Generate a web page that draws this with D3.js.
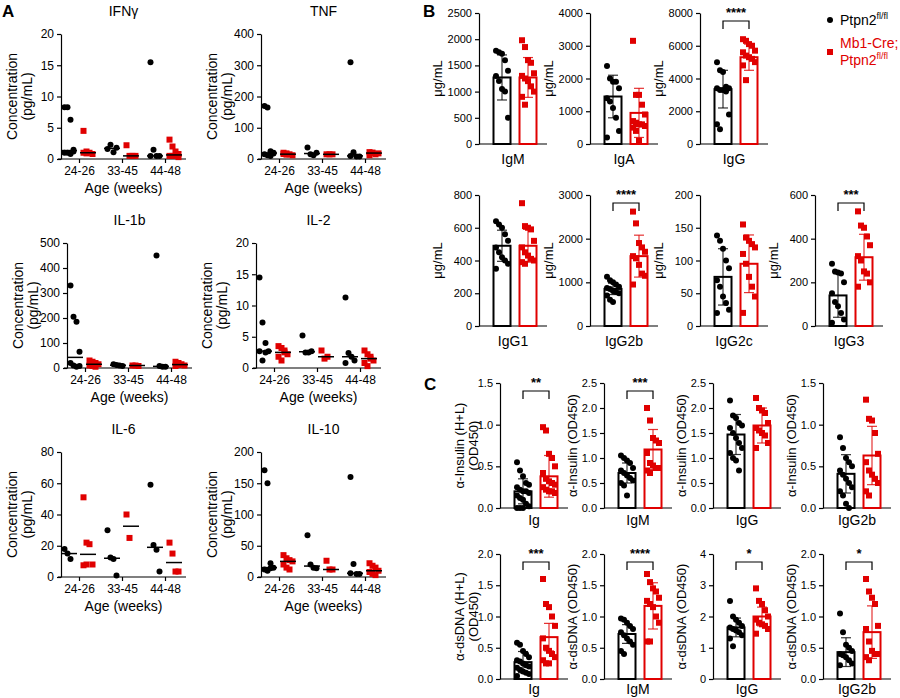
<!DOCTYPE html>
<html lang="en">
<head>
<meta charset="UTF-8">
<script src="https://d3js.org/d3.v7.min.js"></script>
<style>
  body { margin: 0; background: #fff; }
  svg { font-family: "Liberation Sans", Arial, sans-serif; }
  .axis path, .axis line { stroke: #000; stroke-width: 1.2; }
  .axis text { font-size: 11px; fill: #000; }
</style>
</head>
<body>
<svg id="fig" width="900" height="698"></svg>
<script>
const RED = "#e00000";
const ages = ["24-26", "33-45", "44-48"];

// Panel A: cytokines, [black, red] per age group
const cytoNames = ["IFNγ", "TNF", "IL-1b", "IL-2", "IL-6", "IL-10"];
const cytoMax = [20, 400, 500, 20, 80, 200];
const cytoTicks = [[0,5,10,15,20],[0,100,200,300,400],[0,100,200,300,400,500],[0,5,10,15,20],[0,20,40,60,80],[0,50,100,150,200]];
const ifng = [
  [[8.3,8.3,6.3,1.5,1,1,0.8,1.2],[4.5,1.2,1,0.8,1,0.9]],
  [[1.6,2.3,1.1,1.8],[2.2,0.5,0.5,0.5]],
  [[15.5,1.5,0.5,0.5,0.5],[3.1,2,1.2,0.8,0.5,0.5,0.5,0.3]]];
const tnf = [
  [[170,165,25,20,15,12,10,18],[20,18,15,12,16,14]],
  [[37,15,12,20],[15,15,15]],
  [[310,22,8,8,10],[22,20,15,18,12,20]]];
const il1b = [
  [[330,205,185,65,20,10,5,8],[30,25,20,15,10,8,5]],
  [[15,12,10,8],[10,10,8]],
  [[450,8,5,5],[25,20,15,10,8,12]]];
const il2 = [
  [[14.5,7.3,4,2.7,2.7,1.2,2.5],[3.5,3.2,2.5,2.2,1.8,1.2,2.8]],
  [[5.2,2.5,2.5,2.7],[2.8,1.5,1.8]],
  [[11.3,2.4,1.8,1.2,0.8],[2.8,2.2,1.5,1.2,0.8,0.3,1.8]]];
const il6 = [
  [[18,15,11.5],[51,22,21,8,7.5,8]],
  [[30,12.5,11.5,1],[40,25]],
  [[59,20.5,17.5,3.5],[22,15,3.5,3.5]]];
const il10 = [
  [[171,150,22,15,12,10,14],[35,30,27,25,20,15,12]],
  [[67,20,15,14],[26,12,12]],
  [[160,21,5,5,6],[22,18,15,10,8,5,3]]];
const cytoData = [ifng, tnf, il1b, il2, il6, il10];

// Panel B: serum Ig, [black, red]
const bNames = ["IgM","IgA","IgG","IgG1","IgG2b","IgG2c","IgG3"];
const bMax = [2500,4000,8000,800,3000,200,600];
const bStep = [500,1000,2000,200,1000,50,200];
const bMean = [[1270,1270],[1450,950],[3350,5300],[490,490],[850,1600],[75,95],[140,315]];
const bSd = [[430,380],[650,750],[1150,800],[95,100],[130,480],[43,44],[100,105]];
const bSig = ["","","****","","****","","***"];
const bPts = [
  [[1780,1750,1720,1600,1400,1300,1200,1050,1000,500],[1980,1850,1600,1550,1350,1300,1250,1200,1100,1000,900,750]],
  [[2380,2000,1900,1900,1700,1400,1300,1100,800,400,200],[3150,1500,1500,1200,900,700,650,600,600,550,500,400,100]],
  [[5000,4500,4400,3500,3400,3400,3300,3300,3200,1800,1200,900],[6400,6300,6100,6000,5700,5600,5400,5300,5200,5000,4800,3900]],
  [[640,620,600,560,520,480,450,420,400,380,350],[750,610,600,590,520,480,450,430,410,400,390,380]],
  [[1130,1050,1000,950,900,870,850,800,780,750,700,600,550],[2620,2350,1900,1800,1700,1600,1550,1400,1200,1150,950]],
  [[138,130,118,100,88,70,60,45,35,25,20],[155,135,130,125,120,110,95,75,60,45,20]],
  [[285,250,245,240,200,150,110,90,60,30,15],[525,460,450,410,370,320,300,250,240,200,180]]];

// Panel C: autoantibodies OD450
const cNames = ["Ig","IgM","IgG","IgG2b","Ig","IgM","IgG","IgG2b"];
const cMax = [1.5,2.5,2.5,1.5,2,2,4,2];
const cStep = [0.5,0.5,0.5,0.5,0.5,0.5,1,0.5];
const cMean = [[0.2,0.38],[0.7,1.17],[1.47,1.65],[0.41,0.63],[0.27,0.67],[0.72,1.17],[1.65,2.0],[0.43,0.75]];
const cSd = [[0.15,0.25],[0.2,0.4],[0.4,0.35],[0.23,0.35],[0.17,0.22],[0.15,0.37],[0.3,0.3],[0.23,0.42]];
const cSig = ["**","***","","","***","****","*","*"];
const cPts = [
  [[0.55,0.45,0.38,0.3,0.28,0.25,0.22,0.2,0.2,0.18,0.15,0.12,0.1,0.05,0.02,0,0,0],[0.97,0.93,0.65,0.6,0.5,0.42,0.35,0.32,0.3,0.28,0.25,0.22,0.2,0.2,0.18]],
  [[1.05,1.0,0.95,0.9,0.8,0.75,0.7,0.65,0.6,0.55,0.5,0.45,0.25],[2.0,1.75,1.4,1.35,1.3,1.1,0.9,0.85,0.8,0.8,0.75,0.7]],
  [[2.15,1.85,1.8,1.7,1.65,1.6,1.5,1.4,1.3,1.2,1.1,1.0,0.95,0.75],[2.2,2.0,1.95,1.9,1.7,1.6,1.55,1.5,1.45,1.3,1.2]],
  [[0.85,0.72,0.6,0.55,0.5,0.45,0.4,0.35,0.3,0.25,0.2,0.15,0.05,0],[1.3,1.07,1.05,0.9,0.65,0.55,0.45,0.4,0.35,0.3,0.2,0.15]],
  [[0.58,0.55,0.45,0.4,0.35,0.3,0.28,0.25,0.22,0.2,0.18,0.15,0.12,0.1,0.08,0.05],[1.6,1.2,1.15,1.0,0.85,0.65,0.5,0.45,0.4,0.35,0.3,0.25,0.25]],
  [[0.97,0.95,0.9,0.85,0.8,0.75,0.7,0.65,0.6,0.55,0.45,0.4],[1.68,1.55,1.45,1.4,1.3,1.25,1.2,1.15,1.0,0.9,0.6,0.6]],
  [[2.5,2.0,1.9,1.8,1.7,1.65,1.6,1.55,1.5,1.4,1.3,1.05],[2.9,2.5,2.4,2.2,2.0,1.9,1.8,1.75,1.7,1.6,1.45]],
  [[1.05,0.75,0.55,0.5,0.45,0.4,0.38,0.35,0.3,0.25,0.22],[1.6,1.4,1.3,1.2,0.85,0.8,0.6,0.45,0.4,0.4,0.35,0.3]]];

const svg = d3.select("#fig");
const jit = i => ((i % 5) - 2) * 3;

function mark(g, cx, cy, red) {
  if (red) g.append("rect").attr("x", cx - 3).attr("y", cy - 3).attr("width", 6).attr("height", 6).attr("fill", RED);
  else g.append("circle").attr("cx", cx).attr("cy", cy).attr("r", 3).attr("fill", "#000");
}

function yAxis(g, y, ticks, fmt) {
  g.append("g").attr("class", "axis")
    .call(d3.axisLeft(y).tickValues(ticks).tickSize(4).tickSizeOuter(0).tickFormat(fmt || d3.format("")));
}

// ---- Panel A ----
const aPos = [[61,34],[261,34],[67,243],[256,243],[61,452],[261,452]];
cytoData.forEach((data, k) => {
  const [ax, top] = aPos[k], h = 125, w = 125;
  const g = svg.append("g").attr("transform", `translate(${ax},${top})`);
  const y = d3.scaleLinear().domain([0, cytoMax[k]]).range([h, 0]);
  const x = d3.scalePoint().domain(ages).range([18, 104]);
  yAxis(g, y, cytoTicks[k]);
  g.append("g").attr("class", "axis").attr("transform", `translate(0,${h})`)
    .call(d3.axisBottom(x).tickSize(4).tickSizeOuter(0))
    .select(".domain").attr("d", `M-3,0H${w}`);
  g.selectAll(".axis text").style("font-size", "12px");
  data.forEach((grp, gi) => {
    grp.forEach((vals, s) => {
      const cx = x(ages[gi]) + (s ? 9 : -10);
      vals.forEach((v, i) => mark(g, cx + ((i % 4) - 1.5) * 3, y(v), s === 1));
      const m = d3.median(vals);
      g.append("line").attr("x1", cx - 8).attr("x2", cx + 8).attr("y1", y(m)).attr("y2", y(m))
        .attr("stroke", "#000").attr("stroke-width", 1.5);
    });
  });
  g.append("text").attr("x", w / 2).attr("y", -18).attr("text-anchor", "middle").attr("font-size", 14).text(cytoNames[k]);
  g.append("text").attr("x", w / 2).attr("y", h + 34).attr("text-anchor", "middle").attr("font-size", 14).text("Age (weeks)");
  [["Concentration", -44], ["(pg/mL)", -29]].forEach(([t, dx]) =>
    g.append("text").attr("transform", `translate(${dx},${h / 2}) rotate(-90)`).attr("text-anchor", "middle")
      .attr("font-size", 14).text(t));
});

// ---- bar panels (B, C) ----
function barPanel(ax, top, h, max, step, mean, sd, pts, name, sig, ylab, fmt, labY) {
  const g = svg.append("g").attr("transform", `translate(${ax},${top})`);
  const y = d3.scaleLinear().domain([0, max]).range([h, 0]);
  const x = d3.scalePoint().domain(["ctl", "ko"]).range([23, 49]);
  yAxis(g, y, d3.range(0, max + step / 2, step), fmt);
  g.append("line").attr("x1", 0).attr("x2", 68).attr("y1", h).attr("y2", h).attr("stroke", "#000").attr("stroke-width", 1.2);
  ["ctl", "ko"].forEach((key, s) => {
    const cx = x(key), col = s ? RED : "#000";
    g.append("rect").attr("x", cx - 8.5).attr("y", y(mean[s])).attr("width", 17).attr("height", h - y(mean[s]))
      .attr("fill", "none").attr("stroke", col).attr("stroke-width", 2);
    pts[s].forEach((v, i) => mark(g, cx + jit(i), y(v), s === 1));
    const eb = [mean[s] - sd[s], mean[s] + sd[s]].map(y);
    g.append("line").attr("x1", cx).attr("x2", cx).attr("y1", eb[0]).attr("y2", eb[1]).attr("stroke", col).attr("stroke-width", 1.2).attr("opacity", 0.8);
    eb.forEach(e => g.append("line").attr("x1", cx - 5).attr("x2", cx + 5).attr("y1", e).attr("y2", e).attr("stroke", col).attr("stroke-width", 1.2).attr("opacity", 0.8));
  });
  if (sig) {
    g.append("path").attr("d", `M${x("ctl")},${16}V${8}H${x("ko")}V${16}`).attr("fill", "none").attr("stroke", "#000").attr("stroke-width", 1.2);
    g.append("text").attr("x", (x("ctl") + x("ko")) / 2).attr("y", 4).attr("text-anchor", "middle").attr("font-size", 13).attr("font-weight", "bold").text(sig);
  }
  g.append("text").attr("x", 34).attr("y", h + labY).attr("text-anchor", "middle").attr("font-size", 14).text(name);
  ylab.forEach(([t, dx]) =>
    g.append("text").attr("transform", `translate(${dx},${h / 2}) rotate(-90)`).attr("text-anchor", "middle").attr("font-size", 13).text(t));
}

const bPos = [[479,13],[590,13],[700,13],[479,195],[590,195],[700,195],[815,195]];
bNames.forEach((n, k) => barPanel(bPos[k][0], bPos[k][1], 131, bMax[k], bStep[k], bMean[k], bSd[k], bPts[k], n, bSig[k],
  [["μg/mL", -37]], null, 20));

const cPos = [[500,383],[604,383],[713,383],[823,383],[500,554],[604,554],[713,554],[823,554]];
cNames.forEach((n, k) => {
  const lab = k < 4 ? "α-Insulin" : "α-dsDNA";
  const yl = n === "Ig" ? [[lab + " (H+L)", -36], ["(OD450)", -22]] : [[lab + " (OD450)", -27]];
  barPanel(cPos[k][0], cPos[k][1], 125, cMax[k], cStep[k], cMean[k], cSd[k], cPts[k], n, cSig[k], yl,
    cStep[k] < 1 ? d3.format(".1f") : d3.format("d"), k < 4 ? 17 : 15);
});

// legend
const leg = svg.append("g").attr("transform", "translate(830,0)");
leg.append("circle").attr("cx", 0).attr("cy", 20).attr("r", 3).attr("fill", "#000");
leg.append("text").attr("x", 10).attr("y", 25).attr("font-size", 14).html('Ptpn2<tspan dy="-6" font-size="9">fl/fl</tspan>');
leg.append("rect").attr("x", -3).attr("y", 49).attr("width", 6).attr("height", 6).attr("fill", RED);
leg.append("text").attr("x", 10).attr("y", 48).attr("font-size", 14).attr("fill", RED).text("Mb1-Cre;");
leg.append("text").attr("x", 10).attr("y", 65).attr("font-size", 14).attr("fill", RED).html('Ptpn2<tspan dy="-6" font-size="9">fl/fl</tspan>');

// panel letters
[["A", 2, 17], ["B", 423, 17], ["C", 424, 390]].forEach(([t, x, y]) =>
  svg.append("text").attr("x", x).attr("y", y).attr("font-size", 17).attr("font-weight", "bold").text(t));
</script>
</body>
</html>
